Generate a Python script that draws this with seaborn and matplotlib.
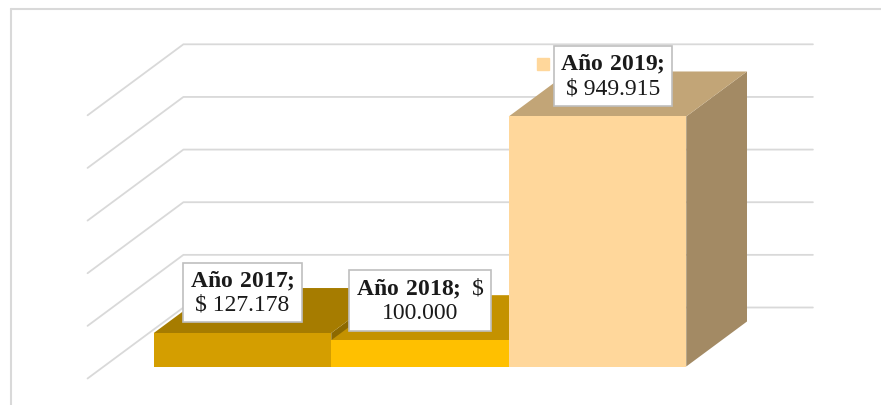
import matplotlib
matplotlib.use("Agg")
import matplotlib.pyplot as plt
import matplotlib.transforms as mtransforms
from matplotlib.patches import Polygon
from matplotlib.lines import Line2D
import seaborn as sns

# Data
years = ['Año 2017', 'Año 2018', 'Año 2019']
values = [127178, 100000, 949915]
value_labels = ['$ 127.178', '$ 100.000', '$ 949.915']
grid_values = [0, 200000, 400000, 600000, 800000, 1000000]

# Colours (front / top / side of each 3D bar)
front_colors = ['#D49E00', '#FFC000', '#FFD79B']
top_colors = ['#A67C00', '#C49200', '#C2A577']
side_colors = ['#8C6900', '#A88000', '#A38A64']
grid_color = '#D9D9D9'

sns.set_theme(style='white')
plt.rcParams['font.family'] = ['Liberation Serif', 'DejaVu Serif']
plt.rcParams['mathtext.fontset'] = 'custom'
plt.rcParams['mathtext.rm'] = 'Liberation Serif'
plt.rcParams['mathtext.bf'] = 'Liberation Serif:bold'

W, H, DPI = 881, 405, 100
fig = plt.figure(figsize=(W / DPI, H / DPI), dpi=DPI)
ax = fig.add_axes([0, 0, 1, 1])

# pixel scales of the front plane
PX_PER_CAT = 177.5
PX_PER_VAL = 263.2 / 1e6
X0_PX = 242.5      # centre of first bar, from left
BASE_PX = 366.5    # baseline, from top


def dxu(px):
    return px / PX_PER_CAT


def dyu(px):
    return px / PX_PER_VAL


sns.barplot(x=years, y=values, hue=years, palette=front_colors, width=1.0,
            saturation=1, linewidth=0, legend=False, ax=ax)
ax.set_xlim(-X0_PX / PX_PER_CAT, (W - X0_PX) / PX_PER_CAT)
ax.set_ylim(-(H - BASE_PX) / PX_PER_VAL, BASE_PX / PX_PER_VAL)
ax.axis('off')

# 3D geometry (in pixels of depth)
slope = 1.35
bar_depth = 45
wall_depth = 59
floor_front = -12
xl = -0.5 - dxu(50)                 # left wall, front plane
xr = len(values) - 0.5 + dxu(47)    # right end, front plane

for v in grid_values:
    bx, by = xl + dxu(wall_depth * slope), v + dyu(wall_depth)
    fx, fy = xl + dxu(floor_front * slope), v + dyu(floor_front)
    ax.add_line(Line2D([fx, bx, xr + dxu(wall_depth * slope)], [fy, by, by],
                       color=grid_color, lw=1.3, zorder=0))

ddx, ddy = dxu(bar_depth * slope), dyu(bar_depth)
for i, bar in enumerate(ax.patches):
    x0, w, h = bar.get_x(), bar.get_width(), bar.get_height()
    z = 1 + i
    bar.set_zorder(z + 0.5)
    top = Polygon([(x0, h), (x0 + w, h), (x0 + w + ddx, h + ddy), (x0 + ddx, h + ddy)],
                  closed=True, fc=top_colors[i], ec='none', zorder=z)
    side = Polygon([(x0 + w, 0), (x0 + w + ddx, ddy), (x0 + w + ddx, h + ddy), (x0 + w, h)],
                   closed=True, fc=side_colors[i], ec='none', zorder=z)
    ax.add_patch(side)
    ax.add_patch(top)

# Data labels
box = dict(boxstyle='square,pad=0.28', fc='white', ec='#BFBFBF', lw=1.2)
label_texts = [
    r'$\mathbf{Año\ 2017;}$' + '\n' + r'\$ 127.178',
    r'$\mathbf{Año\ 2018;}$ \$' + '\n' + '100.000',
    r'$\mathbf{Año\ 2019;}$' + '\n' + r'\$ 949.915',
]
label_offsets = [(0, 29), (0, 28.5), (11, 29)]
for i, txt in enumerate(label_texts):
    ax.annotate(txt, xy=(i, values[i]), xytext=label_offsets[i],
                textcoords='offset points', ha='center', va='center',
                multialignment='center', fontsize=17, linespacing=1.12,
                color='#1a1a1a', bbox=box, zorder=10)

# legend key inside 2019 label
key_tr = ax.transData + mtransforms.ScaledTranslation(-54.5 / DPI, 52.5 / DPI,
                                                        fig.dpi_scale_trans)
ax.plot([2], [values[2]], marker='s', ms=8, color=front_colors[2],
        transform=key_tr, zorder=11, ls='none')

# outer chart border
fig.add_artist(Line2D([10.5 / W, 1], [1 - 8.5 / H, 1 - 8.5 / H], color=grid_color, lw=1.5))
fig.add_artist(Line2D([10.5 / W, 10.5 / W], [0, 1 - 8.5 / H], color=grid_color, lw=1.5))

fig.savefig('out.png', dpi=DPI, facecolor='white')
